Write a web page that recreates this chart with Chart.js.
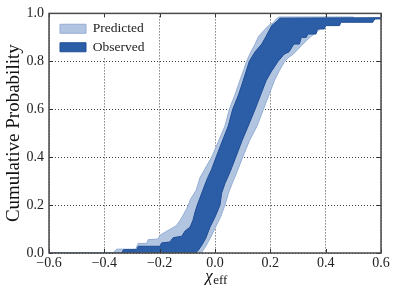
<!DOCTYPE html>
<html>
<head>
<meta charset="utf-8">
<script src="https://cdn.jsdelivr.net/npm/chart.js@4.4.1/dist/chart.umd.min.js"></script>
<style>
  html, body { margin: 0; padding: 0; background: #fff; }
</style>
</head>
<body>
<canvas id="cdfChart" width="398" height="297"></canvas>
<script>
// band edges, [chi_eff, cumulative probability]
// left edges go bottom -> top, right edges go top -> bottom
const predLeft = [
  [-0.600, 0.000], [-0.368, 0.000], [-0.356, 0.016], [-0.286, 0.016], [-0.278, 0.040],
  [-0.247, 0.040], [-0.241, 0.056], [-0.206, 0.058], [-0.199, 0.074], [-0.170, 0.094],
  [-0.140, 0.114], [-0.126, 0.136], [-0.114, 0.160], [-0.102, 0.186], [-0.088, 0.225],
  [-0.068, 0.262], [-0.054, 0.315], [-0.032, 0.360], [-0.012, 0.400], [0.012, 0.465],
  [0.036, 0.530], [0.052, 0.600], [0.072, 0.660], [0.090, 0.720], [0.104, 0.765],
  [0.114, 0.800], [0.130, 0.840], [0.145, 0.872], [0.158, 0.905], [0.178, 0.930],
  [0.193, 0.949], [0.212, 0.962], [0.222, 0.978], [0.232, 0.985]
];
const predRight = [
  [0.500, 0.985], [0.500, 0.975], [0.420, 0.965], [0.380, 0.935], [0.365, 0.920],
  [0.345, 0.902], [0.330, 0.886], [0.313, 0.866], [0.298, 0.848], [0.283, 0.830],
  [0.268, 0.818], [0.252, 0.800], [0.232, 0.760], [0.215, 0.720], [0.195, 0.660],
  [0.175, 0.600], [0.152, 0.530], [0.125, 0.470], [0.100, 0.400], [0.080, 0.340],
  [0.062, 0.290], [0.050, 0.255], [0.036, 0.200], [0.020, 0.150], [0.002, 0.108],
  [-0.018, 0.060], [-0.035, 0.025], [-0.050, 0.000]
];
const obsLeft = [
  [-0.600, 0.000], [-0.337, 0.000], [-0.331, 0.014], [-0.283, 0.014], [-0.277, 0.028],
  [-0.199, 0.028], [-0.193, 0.042], [-0.163, 0.046], [-0.151, 0.064], [-0.120, 0.070],
  [-0.108, 0.092], [-0.090, 0.108], [-0.080, 0.136], [-0.072, 0.171], [-0.064, 0.200],
  [-0.044, 0.262], [-0.028, 0.310], [-0.012, 0.350], [0.004, 0.400], [0.024, 0.460],
  [0.048, 0.530], [0.064, 0.600], [0.085, 0.660], [0.102, 0.720], [0.124, 0.800],
  [0.145, 0.840], [0.169, 0.872], [0.185, 0.905], [0.205, 0.949], [0.222, 0.965],
  [0.235, 0.980]
];
const obsRight = [
  [0.600, 0.982], [0.600, 0.977], [0.578, 0.977], [0.570, 0.963], [0.455, 0.963],
  [0.450, 0.949], [0.400, 0.949], [0.395, 0.935], [0.370, 0.935], [0.365, 0.914],
  [0.335, 0.914], [0.330, 0.900], [0.312, 0.900], [0.305, 0.872], [0.285, 0.872],
  [0.268, 0.840], [0.250, 0.830], [0.228, 0.800], [0.205, 0.760], [0.185, 0.720],
  [0.165, 0.660], [0.145, 0.600], [0.120, 0.530], [0.098, 0.470], [0.075, 0.400],
  [0.055, 0.340], [0.036, 0.290], [0.024, 0.250], [0.018, 0.200], [0.000, 0.150],
  [-0.018, 0.108], [-0.034, 0.060], [-0.048, 0.032], [-0.060, 0.012], [-0.070, 0.000]
];
const labels = ['Observed', 'Predicted'];

const serif = "'Liberation Serif', 'DejaVu Serif', serif";

// one closed outline per band: up the left edge, back down the right edge
function band(left, right) {
  return left.concat(right).map(p => ({x: p[0], y: p[1]}));
}

function fmt(v) {
  const r = Math.round(v * 10) / 10;
  return (r < 0 ? '\u2212' : '') + Math.abs(r).toFixed(1);
}

// white box behind the legend, drawn over the grid, plus the axes frame
const framePlugin = {
  id: 'frame',
  afterLayout(chart) {
    chart.legend.left += 6;
    chart.legend.top += 17;
  },
  afterDatasetsDraw(chart) {
    const {ctx, chartArea: a, scales} = chart;
    const lg = chart.legend;
    ctx.save();
    if (lg && lg.legendHitBoxes.length) {
      const hb = lg.legendHitBoxes;
      const l = Math.min(...hb.map(h => h.left)) - 5;
      const t = Math.min(...hb.map(h => h.top)) - 5;
      const r = Math.max(...hb.map(h => h.left + h.width)) + 6;
      const b = Math.max(...hb.map(h => h.top + h.height)) + 4;
      ctx.fillStyle = '#fff';
      ctx.fillRect(l, t, r - l, b - t);
      lg.draw();
    }
    ctx.strokeStyle = '#333';
    ctx.lineWidth = 1;
    ctx.beginPath();
    scales.x.ticks.forEach(tk => {
      const px = Math.round(scales.x.getPixelForValue(tk.value)) + 0.5;
      ctx.moveTo(px, a.bottom); ctx.lineTo(px, a.bottom - 4);
      ctx.moveTo(px, a.top); ctx.lineTo(px, a.top + 4);
    });
    scales.y.ticks.forEach(tk => {
      const py = Math.round(scales.y.getPixelForValue(tk.value)) + 0.5;
      ctx.moveTo(a.left, py); ctx.lineTo(a.left + 4, py);
      ctx.moveTo(a.right, py); ctx.lineTo(a.right - 4, py);
    });
    ctx.stroke();
    ctx.strokeStyle = '#4a4a4a';
    ctx.lineWidth = 1.5;
    ctx.strokeRect(a.left, a.top, a.right - a.left, a.bottom - a.top);
    ctx.restore();
  },
  afterDraw(chart) {
    // x axis title: chi with "eff" subscript
    const {ctx, scales} = chart;
    const cx = (scales.x.left + scales.x.right) / 2 + 1;
    ctx.save();
    ctx.fillStyle = '#111';
    ctx.textBaseline = 'alphabetic';
    ctx.font = "italic 17px " + serif;
    const wChi = ctx.measureText('\u03c7').width;
    ctx.font = "13px " + serif;
    const wSub = ctx.measureText('eff').width;
    const x0 = cx - (wChi + wSub) / 2;
    ctx.font = "italic 17px " + serif;
    ctx.fillText('\u03c7', x0, 281);
    ctx.font = "13px " + serif;
    ctx.fillText('eff', x0 + wChi + 0.5, 284);
    ctx.restore();
  }
};

const ctx = document.getElementById('cdfChart').getContext('2d');

new Chart(ctx, {
  type: 'line',
  data: {
    datasets: [{
      label: labels[0],
      data: band(obsLeft, obsRight),
      backgroundColor: '#2c5ea8',
      borderColor: '#1f4c94',
      borderWidth: 1,
      pointRadius: 0,
      fill: 'shape'
    }, {
      label: labels[1],
      data: band(predLeft, predRight),
      backgroundColor: '#b1c5e0',
      borderColor: '#93add4',
      borderWidth: 1,
      pointRadius: 0,
      fill: 'shape'
    }]
  },
  options: {
    responsive: false,
    animation: false,
    events: [],
    layout: {
      padding: {top: 13, right: 17, left: 0, bottom: 0}
    },
    plugins: {
      legend: {
        position: 'chartArea',
        align: 'start',
        reverse: true,
        labels: {
          boxWidth: 26,
          boxHeight: 9,
          padding: 5,
          color: '#222',
          font: {family: serif, size: 13.5}
        }
      },
      tooltip: {enabled: false}
    },
    scales: {
      x: {
        type: 'linear',
        min: -0.6,
        max: 0.6,
        afterFit(scale) { scale.height = 44; },
        ticks: {
          stepSize: 0.2,
          padding: 2,
          color: '#222',
          font: {family: serif, size: 14},
          callback: v => fmt(v)
        },
        grid: {color: '#444', lineWidth: 1, drawTicks: false},
        border: {display: false, dash: [1, 2]}
      },
      y: {
        min: 0,
        max: 1,
        afterFit(scale) { scale.width = 49; },
        ticks: {
          stepSize: 0.2,
          padding: 5,
          color: '#222',
          font: {family: serif, size: 14},
          callback: v => fmt(v)
        },
        grid: {color: '#444', lineWidth: 1, drawTicks: false},
        border: {display: false, dash: [1, 2]},
        title: {
          display: true,
          text: 'Cumulative Probability',
          color: '#111',
          padding: {top: 3, bottom: 0},
          font: {family: serif, size: 19}
        }
      }
    }
  },
  plugins: [framePlugin]
});
</script>
</body>
</html>
